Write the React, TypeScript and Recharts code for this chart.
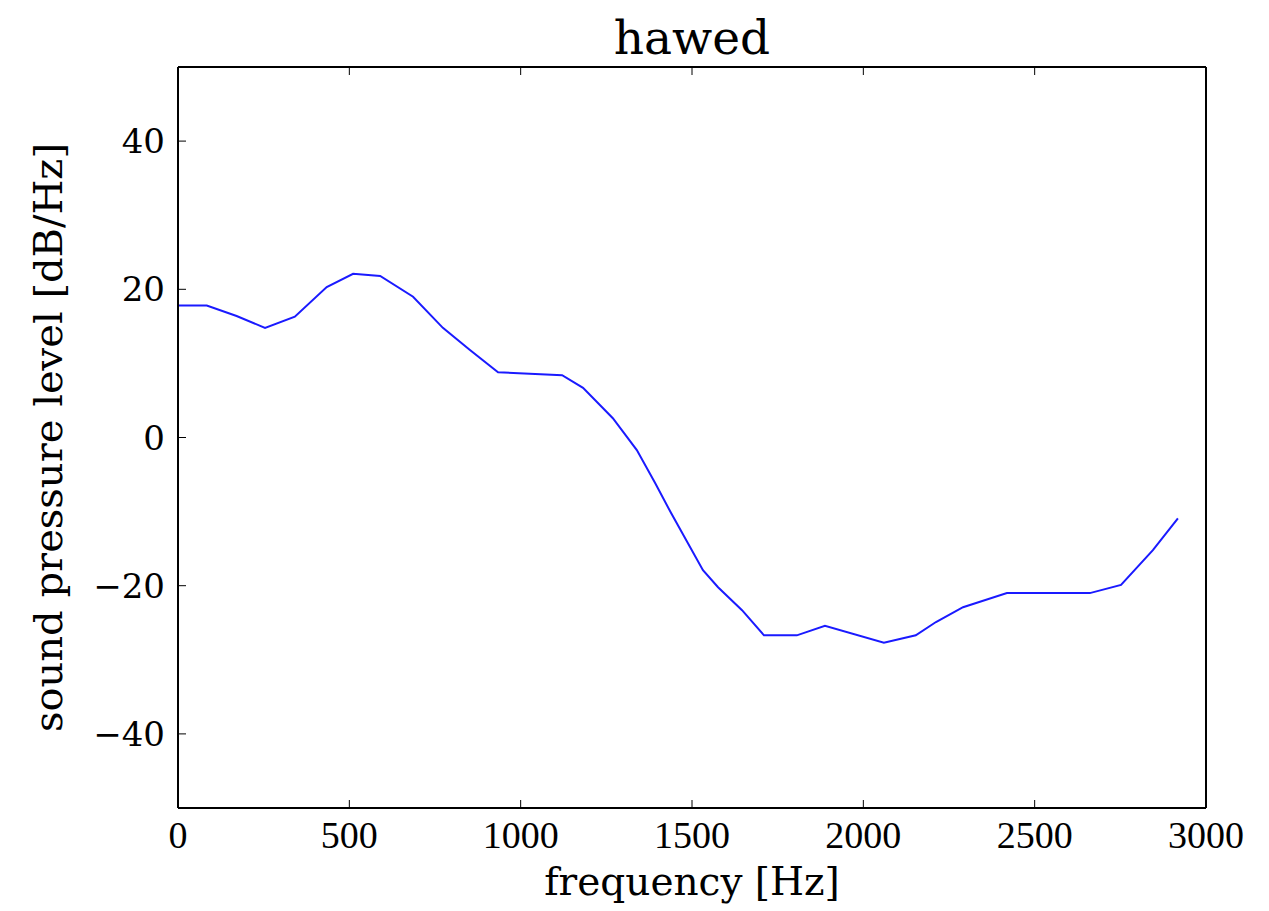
import { LineChart, Line, XAxis, YAxis, Label } from "recharts";

const FREQ = [
  0, 84, 171, 254, 341, 434, 511, 590, 686, 773, 852, 934, 1121, 1182, 1269,
  1339, 1392, 1439, 1532, 1576, 1646, 1710, 1806, 1888, 2060, 2153, 2212, 2291,
  2419, 2661, 2752, 2845, 2918,
];
const SPL = [
  17.8, 17.8, 16.4, 14.8, 16.3, 20.3, 22.1, 21.8, 19.0, 14.8, 11.8, 8.8, 8.4,
  6.7, 2.6, -1.7, -6.1, -10.2, -17.9, -20.2, -23.3, -26.7, -26.7, -25.4, -27.7,
  -26.7, -24.9, -22.9, -21.0, -21.0, -19.9, -15.2, -10.9,
];
const X_TICKS = [0, 500, 1000, 1500, 2000, 2500, 3000];
const Y_TICKS = [-40, -20, 0, 20, 40];

const data = FREQ.map((f, i) => ({ freq: f, spl: SPL[i] }));

const SERIF = "DejaVu Serif";
const TIMES = "Liberation Serif";
const TICK_LEN = 8;
const FRAME = { stroke: "#000", strokeWidth: 2 };

const fmt = (v: number) => (v < 0 ? `\u2212${Math.abs(v)}` : `${v}`);

function LeftTick({ x, y, payload }: any) {
  return (
    <g>
      <line x1={x} x2={x + TICK_LEN} y1={y} y2={y} stroke="#000" strokeWidth={1} />
      <text x={x - 13} y={y} textAnchor="end" dominantBaseline="central" fontFamily={SERIF} fontSize={34} fill="#000">
        {fmt(payload.value)}
      </text>
    </g>
  );
}

function RightTick({ x, y }: any) {
  return <line x1={x} x2={x - TICK_LEN} y1={y} y2={y} stroke="#000" strokeWidth={1} />;
}

function BottomTick({ x, y, payload }: any) {
  return (
    <g>
      <line x1={x} x2={x} y1={y} y2={y - TICK_LEN} stroke="#000" strokeWidth={1} />
      <text x={x} y={y + 40} textAnchor="middle" fontFamily={TIMES} fontSize={38} fill="#000">
        {fmt(payload.value)}
      </text>
    </g>
  );
}

function TopTick({ x, y }: any) {
  return <line x1={x} x2={x} y1={y} y2={y + TICK_LEN} stroke="#000" strokeWidth={1} />;
}

export default function App() {
  return (
    <div style={{ position: "absolute", left: 0, top: 0, background: "#fff" }}>
      <LineChart width={1269} height={911} data={data} margin={{ top: 66, right: 62, bottom: 0, left: 0 }}>
        <XAxis
          dataKey="freq"
          type="number"
          domain={[0, 3000]}
          ticks={X_TICKS}
          height={103}
          tickSize={0}
          tickMargin={0}
          tick={<BottomTick />}
          axisLine={FRAME}
          tickLine={false}
        >
          <Label
            content={({ viewBox }: any) => (
              <text
                x={viewBox.x + viewBox.width / 2}
                y={viewBox.y + 87}
                textAnchor="middle"
                fontFamily={SERIF}
                fontSize={39}
                fill="#000"
              >
                frequency [Hz]
              </text>
            )}
          />
        </XAxis>
        <XAxis
          xAxisId="top"
          orientation="top"
          dataKey="freq"
          type="number"
          domain={[0, 3000]}
          ticks={X_TICKS}
          height={1}
          tickSize={0}
          tickMargin={0}
          tick={<TopTick />}
          axisLine={FRAME}
          tickLine={false}
        >
          <Label
            content={({ viewBox }: any) => (
              <text
                x={viewBox.x + viewBox.width / 2}
                y={viewBox.y - 12}
                textAnchor="middle"
                fontFamily={SERIF}
                fontSize={47}
                fill="#000"
              >
                hawed
              </text>
            )}
          />
        </XAxis>
        <YAxis
          type="number"
          domain={[-50, 50]}
          ticks={Y_TICKS}
          width={178}
          tickSize={0}
          tickMargin={0}
          tick={<LeftTick />}
          axisLine={FRAME}
          tickLine={false}
        >
          <Label
            content={({ viewBox }: any) => {
              const cy = viewBox.y + viewBox.height / 2;
              return (
                <text
                  x={48}
                  y={cy}
                  transform={`rotate(-90 48 ${cy})`}
                  textAnchor="middle"
                  dominantBaseline="central"
                  fontFamily={SERIF}
                  fontSize={40}
                  fill="#000"
                >
                  sound pressure level [dB/Hz]
                </text>
              );
            }}
          />
        </YAxis>
        <YAxis
          yAxisId="right"
          orientation="right"
          type="number"
          domain={[-50, 50]}
          ticks={Y_TICKS}
          width={1}
          tickSize={0}
          tickMargin={0}
          tick={<RightTick />}
          axisLine={FRAME}
          tickLine={false}
        />
        <Line
          dataKey="spl"
          type="linear"
          stroke="#1a1aff"
          strokeWidth={2}
          dot={false}
          isAnimationActive={false}
        />
      </LineChart>
    </div>
  );
}
